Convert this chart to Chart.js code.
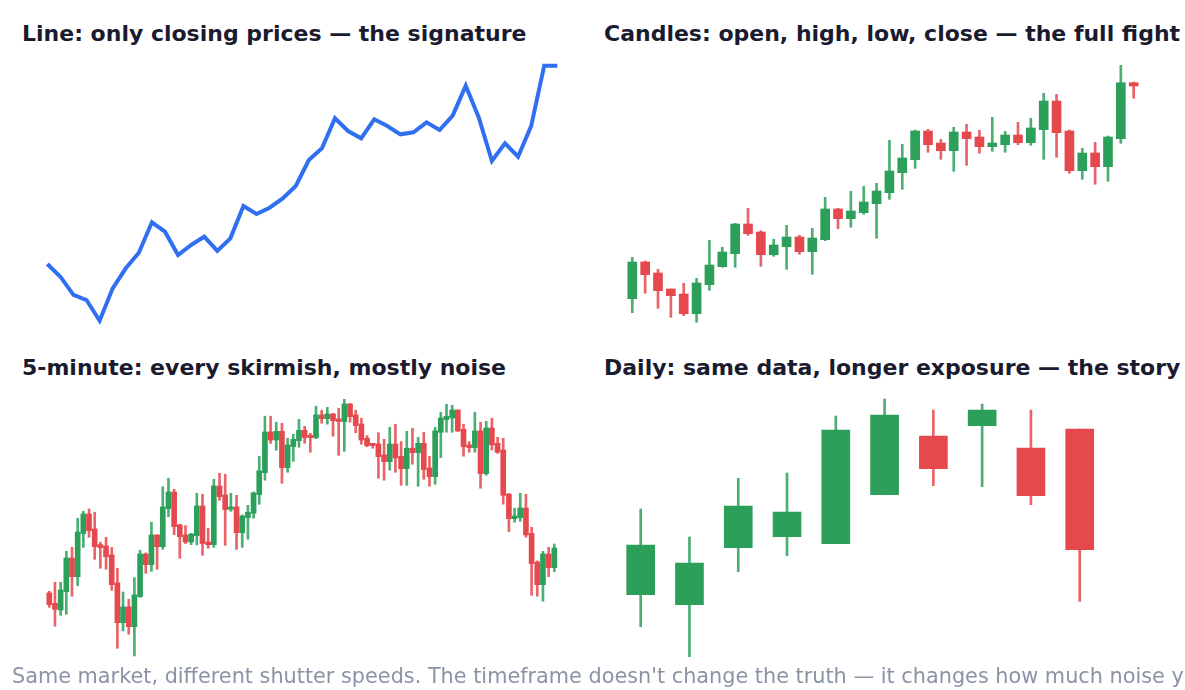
<!DOCTYPE html>
<html>
<head>
<meta charset="utf-8">
<script src="https://cdn.jsdelivr.net/npm/chart.js@4.4.1/dist/chart.umd.min.js"></script>
<style>
  html, body { margin: 0; padding: 0; background: #ffffff; width: 1185px; height: 690px; overflow: hidden; position: relative; }
  .t { position: absolute; font-family: "DejaVu Sans", sans-serif; font-weight: bold; font-size: 22px; line-height: 1; color: #1b1b2f; white-space: nowrap; }
  .cap { position: absolute; left: 12px; top: 666.4px; font-family: "DejaVu Sans", sans-serif; font-size: 20.8px; line-height: 1; color: #8a93a6; white-space: nowrap; }
  canvas { position: absolute; }
</style>
</head>
<body>
<div class="t" style="left:22px; top:23.1px;">Line: only closing prices — the signature</div>
<div class="t" style="left:604px; top:23.1px;">Candles: open, high, low, close — the full fight</div>
<div class="t" style="left:22px; top:357.1px;">5-minute: every skirmish, mostly noise</div>
<div class="t" style="left:604px; top:357.1px;">Daily: same data, longer exposure — the story</div>

<canvas id="cLine" width="531" height="276" style="left:37px; top:55px;"></canvas>
<canvas id="cCandle" width="536" height="278" style="left:615px; top:55px;"></canvas>
<canvas id="c5m" width="532" height="277" style="left:36px; top:389px;"></canvas>
<canvas id="cDaily" width="520" height="278" style="left:600px; top:389px;"></canvas>

<div class="cap">Same market, different shutter speeds. The timeframe doesn't change the truth — it changes how much noise you see.</div>

<script>
// ---- Line chart: closing prices ----
const lineClose = [103.76,102.61,100.96,100.5,98.63,101.56,103.37,104.78,107.53,106.68,
  104.57,105.48,106.23,104.94,106.08,109.01,108.28,108.85,109.7,110.82,
  113.17,114.23,116.94,115.79,115.13,116.85,116.24,115.49,115.67,116.58,
  115.88,117.18,119.89,117.0,113.08,114.68,113.47,116.24,121.7,121.7];

// ---- Candles (same session, 40 bars) ----
const candleOpen = [100.13,103.8,102.7,101.1,100.6,98.63,101.53,103.33,104.63,107.6,
  106.8,104.53,105.33,106.3,104.83,106.03,109.1,108.13,108.73,109.63,
  110.73,112.73,114.03,116.9,115.7,114.93,116.8,116.3,115.33,115.53,
  116.5,115.73,117.03,119.9,116.9,112.93,114.7,113.33,116.13,121.73];
const candleHigh = [104.27,103.9,103.07,101.1,101.67,102.17,105.97,105.27,107.67,109.17,
  106.93,106.07,107.47,106.47,107.17,110.27,109.17,110.87,111.37,111.67,
  115.97,115.57,117.0,117.07,116.07,117.27,117.57,116.97,118.27,116.87,
  117.77,118.17,120.67,120.57,117.0,115.17,115.77,116.4,123.47,121.8];
const candleLow = [98.73,100.67,99.17,98.27,98.43,97.77,100.97,103.27,103.27,106.47,
  103.37,104.37,103.07,104.57,102.57,105.93,107.13,107.27,108.57,106.17,
  110.07,111.07,113.17,114.77,114.07,112.87,113.47,114.67,114.87,114.77,
  115.53,115.47,114.07,114.27,112.67,112.07,111.57,111.87,115.67,120.17];
const candleClose = [103.8,102.53,100.93,100.43,98.63,101.7,103.5,104.8,107.6,106.63,
  104.53,105.5,106.3,104.83,106.2,109.1,108.13,108.9,109.8,110.9,
  112.9,114.2,116.9,115.53,114.93,116.8,116.13,115.33,115.7,116.5,
  115.73,117.2,119.9,116.73,112.93,114.7,113.33,116.3,121.73,121.4];

// ---- 5-minute candles (90 bars) ----
const m5Open = [104.78,104.0,103.5,104.88,107.4,106.0,109.23,110.7,109.58,108.4,
  108.3,107.63,105.53,102.55,103.73,102.25,104.5,107.7,106.9,109.13,
  108.25,111.1,112.35,109.88,109.13,108.6,109.08,111.3,108.6,108.4,
  112.8,112.13,111.05,111.23,109.3,110.43,110.75,112.15,113.8,116.85,
  116.25,116.9,114.18,115.75,116.2,116.98,116.6,116.43,118.13,117.85,
  118.2,117.83,117.63,118.95,118.13,117.45,116.38,116.0,115.95,115.13,
  114.63,115.95,115.03,114.1,115.63,115.3,116.0,114.15,113.5,116.83,
  117.78,117.9,118.5,117.05,115.88,115.68,116.93,113.73,117.15,116.0,
  115.5,112.18,110.35,110.43,111.15,109.25,107.1,105.4,107.7,106.68];
const m5High = [104.9,105.58,105.58,107.9,108.2,110.38,110.9,111.08,110.83,108.58,
  108.95,108.2,106.63,104.85,104.3,105.93,107.98,107.78,110.08,109.13,
  112.75,113.38,112.55,109.93,109.83,109.25,112.25,112.18,109.63,113.3,
  113.75,113.68,112.25,112.1,110.63,111.35,112.35,115.03,118.03,118.03,
  117.58,117.5,116.38,116.68,117.8,117.28,116.75,118.78,118.48,118.7,
  118.25,118.63,119.3,119.0,118.48,117.88,116.58,116.0,116.8,116.3,
  117.2,117.43,116.13,116.9,117.13,116.45,116.83,115.03,117.2,118.33,
  118.93,118.85,118.5,117.43,116.13,118.33,117.58,117.65,117.88,116.45,
  116.38,112.25,111.13,112.25,112.18,109.7,107.18,107.9,108.2,108.45];
const m5Low = [103.7,102.28,103.1,103.18,104.53,105.33,108.2,108.95,107.3,106.63,
  106.55,104.98,100.63,101.93,101.68,100.05,104.45,106.25,106.4,106.55,
  108.05,110.5,109.15,107.38,108.48,108.4,108.38,107.6,108.13,108.2,
  111.73,108.35,110.9,108.05,108.2,108.8,110.38,111.43,113.23,116.0,
  115.48,113.0,113.83,114.65,115.7,116.0,115.33,116.35,117.5,117.43,
  116.53,115.1,115.4,117.58,116.8,115.93,115.75,115.63,113.38,113.23,
  113.98,113.83,112.85,112.85,114.43,112.78,113.3,112.78,112.93,114.93,
  116.83,116.83,116.88,115.03,115.33,115.33,112.63,113.6,115.5,115.25,
  111.43,109.38,110.08,110.15,108.95,104.6,104.53,104.15,106.0,106.38];
const m5Close = [103.9,103.55,105.0,107.4,106.0,109.35,110.7,109.45,108.25,108.18,
  107.5,105.4,102.55,103.73,102.25,104.63,107.7,106.9,109.13,108.25,
  111.23,112.35,109.75,109.0,108.6,109.2,111.3,108.48,108.4,112.8,
  112.0,111.03,111.23,109.3,110.55,110.83,112.28,113.93,116.85,116.25,
  116.9,114.18,115.88,116.3,116.98,116.43,116.43,118.13,117.85,118.2,
  117.7,117.63,118.95,118.0,117.33,116.25,115.83,115.83,115.0,114.63,
  115.95,114.9,114.1,115.63,115.3,116.0,114.03,113.5,116.93,117.9,
  118.03,118.5,116.93,115.75,115.68,116.93,113.73,117.15,115.88,115.33,
  112.1,110.35,110.55,111.15,109.13,106.98,105.4,107.7,106.68,108.15];

// ---- Daily candles (10 bars) ----
const dayOpen  = [104.65,103.9,108.18,109.0,108.48,112.15,116.55,117.33,115.65,117.08];
const dayHigh  = [111.08,108.98,113.38,113.78,118.05,119.33,118.5,118.95,118.5,117.08];
const dayLow   = [102.25,100.0,106.38,107.58,108.48,112.15,112.83,112.75,111.4,104.15];
const dayClose = [108.38,107.03,111.3,110.85,117.0,118.13,114.1,118.5,112.08,108.03];

const GREEN = '#2ca05a';
const RED = '#e5484d';
const GREEN_W = 'rgba(44,160,90,0.85)';
const RED_W = 'rgba(229,72,77,0.85)';
const BLUE = '#2f6ff0';

const baseOpts = (pad) => ({
  responsive: false,
  animation: false,
  events: [],
  layout: { padding: pad },
  plugins: { legend: { display: false }, tooltip: { enabled: false }, title: { display: false } }
});

// Line chart
(function () {
  const labels = lineClose.map((_, i) => i);
  const opts = baseOpts({ left: 10.3, right: 10.7, top: 10.7, bottom: 10.3 });
  opts.scales = {
    x: { type: 'linear', display: false, min: 0, max: lineClose.length - 1, offset: false },
    y: { type: 'linear', display: false, min: Math.min(...lineClose), max: Math.max(...lineClose) }
  };
  new Chart(document.getElementById('cLine'), {
    type: 'line',
    data: {
      datasets: [{
        data: labels.map(i => ({ x: i, y: lineClose[i] })),
        borderColor: BLUE,
        borderWidth: 4,
        pointRadius: 0,
        tension: 0,
        fill: false,
        clip: false
      }]
    },
    options: opts
  });
})();

function candleChart(id, open, high, low, close, bodyW, wickW, pad, xMax) {
  const idx = open.map((_, i) => i);
  const up = idx.map(i => close[i] >= open[i]);
  const bodyColors = up.map(u => u ? GREEN : RED);
  const wickColors = up.map(u => u ? GREEN_W : RED_W);
  const opts = baseOpts(pad);
  opts.scales = {
    x: { type: 'linear', display: false, min: -0.5, max: xMax, offset: false },
    y: { type: 'linear', display: false, beginAtZero: false, min: Math.min(...low), max: Math.max(...high) }
  };
  new Chart(document.getElementById(id), {
    type: 'bar',
    data: {
      datasets: [
        {
          data: idx.map(i => ({ x: i, y: [open[i], close[i]] })),
          backgroundColor: bodyColors,
          barThickness: bodyW,
          grouped: false,
          borderWidth: 0,
          minBarLength: 1,
          clip: false
        },
        {
          data: idx.map(i => ({ x: i, y: [low[i], high[i]] })),
          backgroundColor: wickColors,
          barThickness: wickW,
          grouped: false,
          borderWidth: 0,
          clip: false
        }
      ]
    },
    options: opts
  });
}

candleChart('cCandle', candleOpen, candleHigh, candleLow, candleClose, 9, 2,
  { left: 10.87, right: 10.87, top: 10.3, bottom: 10.7 }, candleOpen.length - 0.5);
candleChart('c5m', m5Open, m5High, m5Low, m5Close, 5, 2,
  { left: 10.46, right: 10.86, top: 10.3, bottom: 10 }, m5Open.length - 0.5);
candleChart('cDaily', dayOpen, dayHigh, dayLow, dayClose, 28, 2,
  { left: 16.3, right: 15.9, top: 10, bottom: 10.3 }, dayOpen.length - 0.5);
</script>
</body>
</html>
